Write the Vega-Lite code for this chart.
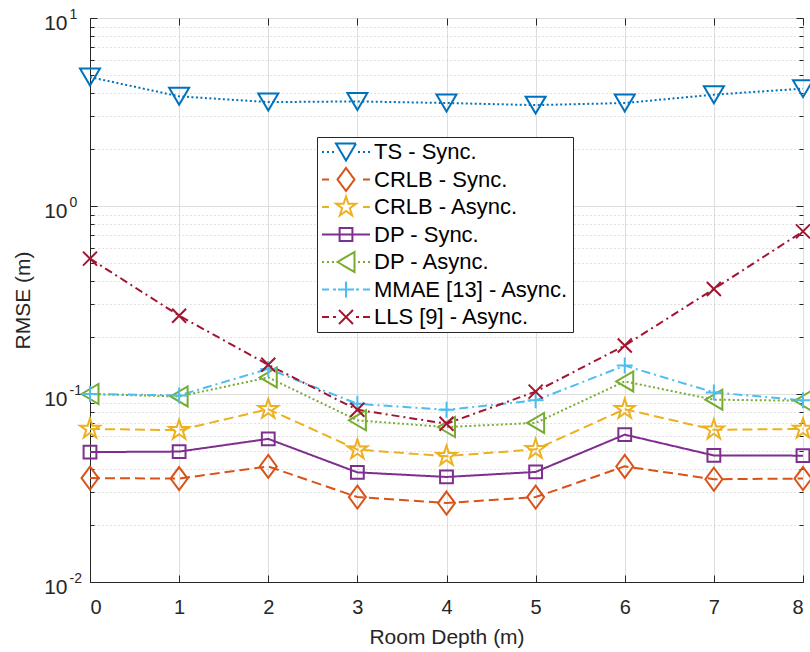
{
  "$schema": "https://vega.github.io/schema/vega-lite/v6.json",
  "autosize": {"type": "none"},
  "padding": {"left": 90, "top": 18, "right": 7, "bottom": 70},
  "width": 713,
  "height": 564,
  "background": "white",
  "config": {
    "view": {"stroke": "#262626", "strokeWidth": 1},
    "font": "Liberation Sans",
    "axis": {"labelFont": "Liberation Sans", "titleFont": "Liberation Sans", "labelColor": "#262626", "titleColor": "#262626", "titleFontWeight": "normal", "domainColor": "#262626", "tickColor": "#262626"}
  },
  "data": {"values": [
    {"depth": 0, "rmse": 4.85, "series": "TS - Sync."},
    {"depth": 1, "rmse": 3.83, "series": "TS - Sync."},
    {"depth": 2, "rmse": 3.57, "series": "TS - Sync."},
    {"depth": 3, "rmse": 3.60, "series": "TS - Sync."},
    {"depth": 4, "rmse": 3.53, "series": "TS - Sync."},
    {"depth": 5, "rmse": 3.44, "series": "TS - Sync."},
    {"depth": 6, "rmse": 3.53, "series": "TS - Sync."},
    {"depth": 7, "rmse": 3.91, "series": "TS - Sync."},
    {"depth": 8, "rmse": 4.21, "series": "TS - Sync."},
    {"depth": 0, "rmse": 0.0357, "series": "CRLB - Sync."},
    {"depth": 1, "rmse": 0.0355, "series": "CRLB - Sync."},
    {"depth": 2, "rmse": 0.0412, "series": "CRLB - Sync."},
    {"depth": 3, "rmse": 0.0283, "series": "CRLB - Sync."},
    {"depth": 4, "rmse": 0.0263, "series": "CRLB - Sync."},
    {"depth": 5, "rmse": 0.0283, "series": "CRLB - Sync."},
    {"depth": 6, "rmse": 0.0412, "series": "CRLB - Sync."},
    {"depth": 7, "rmse": 0.0352, "series": "CRLB - Sync."},
    {"depth": 8, "rmse": 0.0355, "series": "CRLB - Sync."},
    {"depth": 0, "rmse": 0.0652, "series": "CRLB - Async."},
    {"depth": 1, "rmse": 0.0642, "series": "CRLB - Async."},
    {"depth": 2, "rmse": 0.083, "series": "CRLB - Async."},
    {"depth": 3, "rmse": 0.0506, "series": "CRLB - Async."},
    {"depth": 4, "rmse": 0.0467, "series": "CRLB - Async."},
    {"depth": 5, "rmse": 0.0508, "series": "CRLB - Async."},
    {"depth": 6, "rmse": 0.083, "series": "CRLB - Async."},
    {"depth": 7, "rmse": 0.0645, "series": "CRLB - Async."},
    {"depth": 8, "rmse": 0.0652, "series": "CRLB - Async."},
    {"depth": 0, "rmse": 0.0491, "series": "DP - Sync."},
    {"depth": 1, "rmse": 0.0494, "series": "DP - Sync."},
    {"depth": 2, "rmse": 0.0577, "series": "DP - Sync."},
    {"depth": 3, "rmse": 0.0383, "series": "DP - Sync."},
    {"depth": 4, "rmse": 0.0362, "series": "DP - Sync."},
    {"depth": 5, "rmse": 0.0385, "series": "DP - Sync."},
    {"depth": 6, "rmse": 0.0608, "series": "DP - Sync."},
    {"depth": 7, "rmse": 0.0471, "series": "DP - Sync."},
    {"depth": 8, "rmse": 0.0470, "series": "DP - Sync."},
    {"depth": 0, "rmse": 0.100, "series": "DP - Async."},
    {"depth": 1, "rmse": 0.097, "series": "DP - Async."},
    {"depth": 2, "rmse": 0.1225, "series": "DP - Async."},
    {"depth": 3, "rmse": 0.0724, "series": "DP - Async."},
    {"depth": 4, "rmse": 0.0667, "series": "DP - Async."},
    {"depth": 5, "rmse": 0.0702, "series": "DP - Async."},
    {"depth": 6, "rmse": 0.1167, "series": "DP - Async."},
    {"depth": 7, "rmse": 0.0933, "series": "DP - Async."},
    {"depth": 8, "rmse": 0.092, "series": "DP - Async."},
    {"depth": 0, "rmse": 0.100, "series": "MMAE [13] - Async."},
    {"depth": 1, "rmse": 0.0983, "series": "MMAE [13] - Async."},
    {"depth": 2, "rmse": 0.136, "series": "MMAE [13] - Async."},
    {"depth": 3, "rmse": 0.0887, "series": "MMAE [13] - Async."},
    {"depth": 4, "rmse": 0.0824, "series": "MMAE [13] - Async."},
    {"depth": 5, "rmse": 0.0925, "series": "MMAE [13] - Async."},
    {"depth": 6, "rmse": 0.1416, "series": "MMAE [13] - Async."},
    {"depth": 7, "rmse": 0.102, "series": "MMAE [13] - Async."},
    {"depth": 8, "rmse": 0.0925, "series": "MMAE [13] - Async."},
    {"depth": 0, "rmse": 0.525, "series": "LLS [9] - Async."},
    {"depth": 1, "rmse": 0.261, "series": "LLS [9] - Async."},
    {"depth": 2, "rmse": 0.143, "series": "LLS [9] - Async."},
    {"depth": 3, "rmse": 0.0824, "series": "LLS [9] - Async."},
    {"depth": 4, "rmse": 0.0695, "series": "LLS [9] - Async."},
    {"depth": 5, "rmse": 0.103, "series": "LLS [9] - Async."},
    {"depth": 6, "rmse": 0.181, "series": "LLS [9] - Async."},
    {"depth": 7, "rmse": 0.362, "series": "LLS [9] - Async."},
    {"depth": 8, "rmse": 0.733, "series": "LLS [9] - Async."}
  ]},
  "resolve": {"axis": {"x": "independent", "y": "independent"}},
  "layer": [
    {
      "mark": {"type": "point", "opacity": 0, "size": 1},
      "encoding": {
        "x": {"field": "depth", "type": "quantitative",
          "scale": {"domain": [0, 8], "nice": false, "zero": false},
          "axis": null},
        "y": {"field": "rmse", "type": "quantitative",
          "scale": {"type": "log", "domain": [0.01, 10], "nice": false},
          "axis": {"orient": "right", "title": null, "labels": false, "grid": false, "domain": false,
            "values": [0.01,0.02,0.03,0.04,0.05,0.06,0.07,0.08,0.09,0.1,0.2,0.3,0.4,0.5,0.6,0.7,0.8,0.9,1,2,3,4,5,6,7,8,9,10],
            "tickSize": {"condition": {"test": "datum.value == 0.01 || datum.value == 0.1 || datum.value == 1 || datum.value == 10", "value": -7}, "value": -4}}}
      }
    },
    {
      "mark": {"type": "line", "strokeWidth": 2, "clip": true},
      "encoding": {
        "x": {"field": "depth", "type": "quantitative",
          "scale": {"domain": [0, 8], "nice": false, "zero": false},
          "axis": {"orient": "bottom", "title": "Room Depth (m)", "values": [0,1,2,3,4,5,6,7,8], "format": "d",
            "labelFontSize": 20, "titleFontSize": 21, "labelPadding": 22, "titlePadding": 9,
            "grid": true, "gridColor": "#dedede", "gridWidth": 1, "tickSize": -7, "domain": true}},
        "y": {"field": "rmse", "type": "quantitative",
          "scale": {"type": "log", "domain": [0.01, 10], "nice": false},
          "axis": {"orient": "left", "title": "RMSE (m)",
            "values": [0.01,0.02,0.03,0.04,0.05,0.06,0.07,0.08,0.09,0.1,0.2,0.3,0.4,0.5,0.6,0.7,0.8,0.9,1,2,3,4,5,6,7,8,9,10],
            "labelExpr": "datum.value == 10 || datum.value == 1 || datum.value == 0.1 || datum.value == 0.01 ? '10' : ''",
            "labelFontSize": 21, "titleFontSize": 21, "labelPadding": 30, "labelOffset": 5, "titlePadding": 10,
            "grid": true,
            "gridColor": {"condition": {"test": "datum.value == 0.01 || datum.value == 0.1 || datum.value == 1 || datum.value == 10", "value": "#dedede"}, "value": "#c4c4c4"},
            "gridDash": {"condition": {"test": "datum.value == 0.01 || datum.value == 0.1 || datum.value == 1 || datum.value == 10", "value": []}, "value": [1, 3]},
            "tickSize": {"condition": {"test": "datum.value == 0.01 || datum.value == 0.1 || datum.value == 1 || datum.value == 10", "value": -7}, "value": -4},
            "domain": true}},
        "color": {"field": "series", "type": "nominal",
          "scale": {"domain": ["TS - Sync.", "CRLB - Sync.", "CRLB - Async.", "DP - Sync.", "DP - Async.", "MMAE [13] - Async.", "LLS [9] - Async."],
                    "range": ["#0072BD", "#D95319", "#EDB120", "#7E2F8E", "#77AC30", "#4DBEEE", "#A2142F"]},
          "legend": {
            "orient": "none", "legendX": 227, "legendY": 119, "title": null,
            "labelFontSize": 22, "labelFont": "Liberation Sans", "labelColor": "#000000", "labelLimit": 0,
            "strokeColor": "#262626", "fillColor": "white", "padding": 4,
            "rowPadding": -4.5, "gridAlign": "all", "symbolSize": 400, "symbolOffset": 14, "labelOffset": 17,
            "encode": {"symbols": {"update": {
              "shape": {"signal": "datum.value === 'TS - Sync.' ? 'M-2.4,0L-2.2,0M-1.9,0L-1.7,0M-1.4,0L-1.2,0M1.2,0L1.4,0M1.7,0L1.9,0M2.2,0L2.4,0M-1,-0.85L1,-0.85L0,0.85Z' : datum.value === 'CRLB - Sync.' ? 'M-2.4,0L-1.7,0M1.7,0L2.4,0M0,-1.15L0.85,0L0,1.15L-0.85,0Z' : datum.value === 'CRLB - Async.' ? 'M-2.4,0L-1.7,0M1.7,0L2.4,0M0,-1.05L0.2357,-0.3244L0.9986,-0.3245L0.3814,0.1239L0.6172,0.8495L0,0.401L-0.6172,0.8495L-0.3814,0.1239L-0.9986,-0.3245L-0.2357,-0.3244Z' : datum.value === 'DP - Sync.' ? 'M-2.4,0L2.4,0M-0.64,-0.64L0.64,-0.64L0.64,0.64L-0.64,0.64Z' : datum.value === 'DP - Async.' ? 'M-2.4,0L-2.2,0M-1.9,0L-1.7,0M-1.4,0L-1.2,0M1.2,0L1.4,0M1.7,0L1.9,0M2.2,0L2.4,0M-0.85,0L0.85,-1L0.85,1Z' : datum.value === 'MMAE [13] - Async.' ? 'M-2.4,0L-1.7,0M-1.3,0L-1.0,0M1.0,0L1.3,0M1.7,0L2.4,0M-0.8,0L0.8,0M0,-0.8L0,0.8' : 'M-2.4,0L-1.7,0M-1.3,0L-1.0,0M1.0,0L1.3,0M1.7,0L2.4,0M-0.7,-0.7L0.7,0.7M-0.7,0.7L0.7,-0.7'"},
              "size": {"value": 400},
              "strokeWidth": {"value": 2},
              "fill": {"value": "transparent"},
              "strokeDash": {"value": [1, 0]},
              "opacity": {"value": 1}
            }}}
          }},
        "strokeDash": {"field": "series", "type": "nominal",
          "scale": {"domain": ["LLS [9] - Async.", "MMAE [13] - Async.", "DP - Async.", "DP - Sync.", "CRLB - Async.", "CRLB - Sync.", "TS - Sync."],
                    "range": [[8, 4, 2, 4], [9, 4, 2, 4], [2, 2.5], [1, 0], [10, 5], [10, 5], [2, 2.5]]},
          "legend": null}
      }
    },
    {
      "mark": {"type": "point", "filled": false, "strokeWidth": 2, "size": 400, "opacity": 1, "clip": false},
      "encoding": {
        "x": {"field": "depth", "type": "quantitative",
          "scale": {"domain": [0, 8], "nice": false, "zero": false},
          "axis": {"orient": "top", "title": null, "labels": false, "grid": false, "domain": false, "values": [0,1,2,3,4,5,6,7,8], "tickSize": -7}},
        "y": {"field": "rmse", "type": "quantitative",
          "scale": {"type": "log", "domain": [0.01, 10], "nice": false},
          "axis": {"orient": "left", "title": null, "grid": false, "domain": false, "ticks": false,
            "values": [0.01, 0.1, 1, 10],
            "labelExpr": "datum.value == 10 ? '1' : datum.value == 1 ? '0' : datum.value == 0.1 ? '-1' : '-2'",
            "labelFontSize": 14, "labelAlign": "left", "labelPadding": 21, "labelOffset": -4}},
        "color": {"field": "series", "type": "nominal", "legend": null},
        "shape": {"field": "series", "type": "nominal",
          "scale": {"domain": ["LLS [9] - Async.", "MMAE [13] - Async.", "DP - Async.", "DP - Sync.", "CRLB - Async.", "CRLB - Sync.", "TS - Sync."],
                    "range": ["M-0.7,-0.7L0.7,0.7M-0.7,0.7L0.7,-0.7", "M-0.8,0L0.8,0M0,-0.8L0,0.8", "M-0.85,0L0.85,-1L0.85,1Z", "M-0.64,-0.64L0.64,-0.64L0.64,0.64L-0.64,0.64Z", "M0,-1.05L0.2357,-0.3244L0.9986,-0.3245L0.3814,0.1239L0.6172,0.8495L0,0.401L-0.6172,0.8495L-0.3814,0.1239L-0.9986,-0.3245L-0.2357,-0.3244Z", "M0,-1.15L0.85,0L0,1.15L-0.85,0Z", "M-1,-0.85L1,-0.85L0,0.85Z"]},
          "legend": null}
      }
    }
  ]
}
